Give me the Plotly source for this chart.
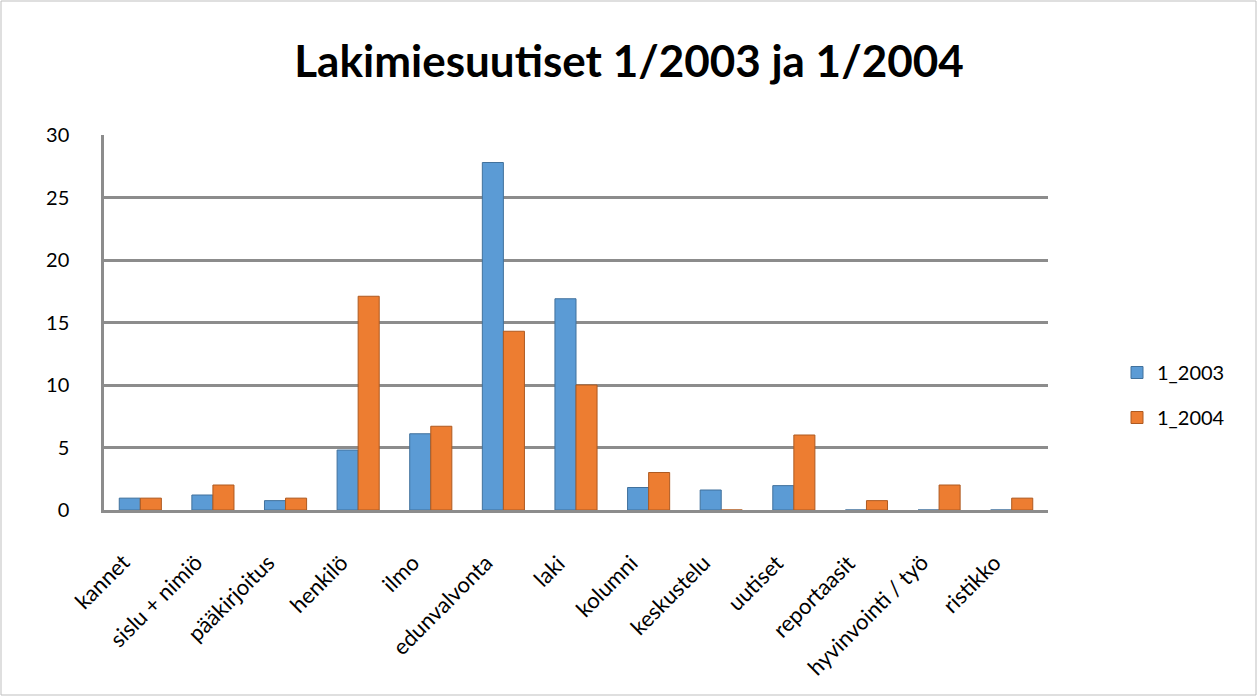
import plotly.graph_objects as go

categories = ["kannet", "sislu + nimiö", "pääkirjoitus", "henkilö", "ilmo", "edunvalvonta",
              "laki", "kolumni", "keskustelu", "uutiset", "reportaasit", "hyvinvointi / työ", "ristikko"]
s2003 = [0.95, 1.2, 0.75, 4.8, 6.1, 27.8, 16.9, 1.8, 1.6, 1.95, 0, 0, 0]
s2004 = [0.95, 2.0, 0.95, 17.1, 6.7, 14.3, 10.0, 3.0, 0, 6.0, 0.75, 2.0, 0.95]
yticks = [0, 5, 10, 15, 20, 25, 30]

W, H = 1258, 697
ml, mr, mt, mb = 104, 210, 135, 187
FONT = "Lato, Open Sans, sans-serif"

fig = go.Figure()
fig.add_trace(go.Bar(name="1_2003", x=categories, y=s2003, legendgroup="a",
                     marker=dict(color="#5B9BD5", line=dict(color="#41719C", width=1))))
fig.add_trace(go.Bar(name="1_2004", x=categories, y=s2004, legendgroup="b",
                     marker=dict(color="#ED7D31", line=dict(color="#AE5A21", width=1))))

for c in categories:
    fig.add_annotation(x=c, y=0, xref="x", yref="y", text=c, showarrow=False,
                       textangle=-45, xanchor="right", yanchor="top",
                       xshift=-3, yshift=-36, font=dict(family=FONT, size=22, color="black"))

pw = W - ml - mr
ph = H - mt - mb
fig.add_shape(type="rect", xref="paper", yref="paper",
              x0=-(ml - 1) / pw, x1=1 + (mr - 2) / pw, y0=-(mb - 2) / ph, y1=1 + (mt - 1) / ph,
              line=dict(color="#BFBFBF", width=1), layer="below")

fig.update_layout(
    width=W, height=H,
    margin=dict(l=ml, r=mr, t=mt, b=mb, autoexpand=False),
    paper_bgcolor="white", plot_bgcolor="white",
    barmode="group", bargap=0.42, bargroupgap=0,
    title=dict(text="<b>Lakimiesuutiset 1/2003 ja 1/2004</b>", x=0.5, xanchor="center",
               y=1 - 62 / H, yanchor="middle",
               font=dict(family=FONT, size=44, color="black")),
    font=dict(family=FONT, color="black"),
    legend=dict(x=1 + 69 / pw, y=1 - (395 - mt) / ph, xanchor="left", yanchor="middle",
                font=dict(size=20), tracegroupgap=16, itemwidth=30),
    xaxis=dict(range=[-0.5, len(categories) - 0.5], autorange=False, showticklabels=False,
               automargin=False,
               showline=True, linecolor="#8C8C8C", linewidth=3, ticks="", showgrid=False),
    yaxis=dict(range=[0, 30], autorange=False, tickvals=yticks, tickfont=dict(size=20), showgrid=True,
               automargin=False,
               gridcolor="#8C8C8C", gridwidth=2.5, showline=True, linecolor="#8C8C8C",
               linewidth=2.5, zeroline=False, ticks="", ticklabelstandoff=28),
)

fig.write_html("out.html", config={"displayModeBar": False},
               post_script="document.body.style.margin='0';document.body.style.overflow='hidden';")
